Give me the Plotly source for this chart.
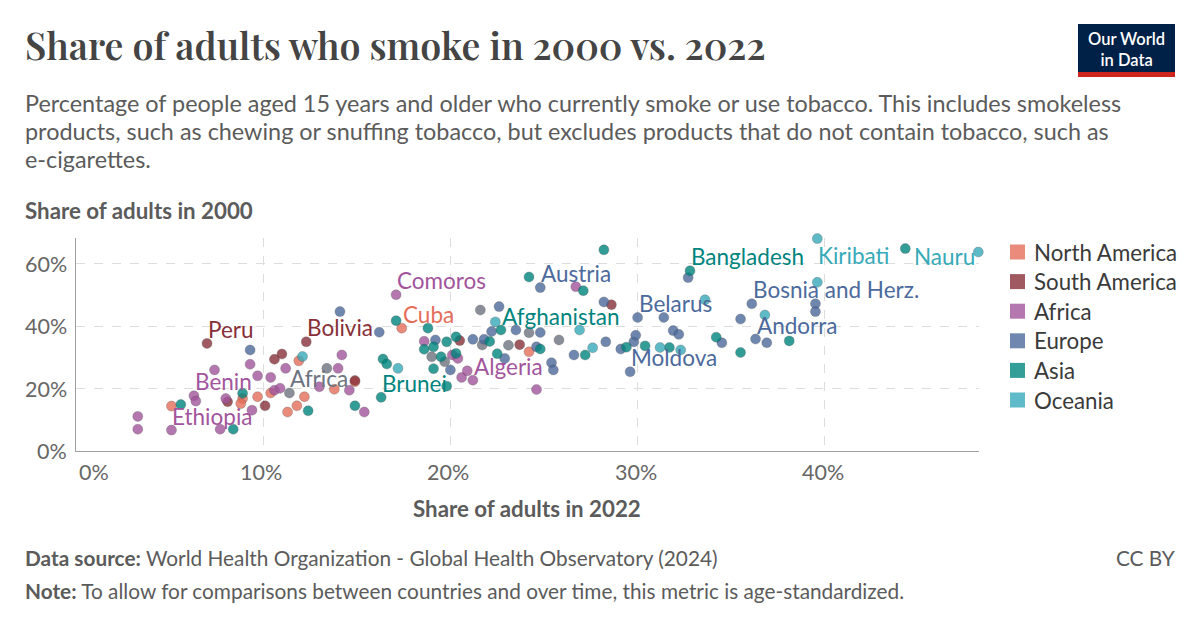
import plotly.graph_objects as go

# ---------------- data (share of adults who smoke, %) ----------------
# x = 2022, y = 2000
na_x = [17.4, 5.1, 8.9, 8.8, 9.7, 10.4, 11.3, 11.8, 12.2, 11.9, 13.8, 14.9, 24.2]
na_y = [39.4, 14.4, 16.8, 15.2, 17.4, 18.6, 12.5, 14.5, 17.4, 28.9, 19.8, 22.2, 31.8]

sa_x = [7.0, 12.3, 8.1, 10.1, 10.6, 11.0, 14.9, 20.5, 23.7, 28.6]
sa_y = [34.5, 35.0, 15.8, 14.5, 29.4, 31.1, 22.6, 35.4, 34.1, 46.9]

af_x = [17.1, 21.2, 6.3, 5.1, 3.3, 3.3, 6.4, 7.4, 8.0, 7.7, 9.4, 9.3, 9.7, 10.4, 10.6,
        10.9, 11.2, 13.0, 14.2, 14.0, 14.6, 15.4, 18.6, 20.1, 20.4, 20.6, 20.9, 24.6, 26.7]
af_y = [50.1, 22.7, 17.7, 6.7, 11.1, 7.0, 16.0, 26.0, 16.8, 7.0, 13.1, 27.8, 24.1, 23.6, 19.5,
        20.1, 26.5, 20.6, 30.8, 26.5, 19.5, 12.5, 35.2, 30.8, 29.7, 23.6, 25.7, 19.7, 52.7]

eu_x = [24.8, 30.0, 29.6, 36.1, 36.3, 9.3, 14.1, 16.2, 19.2, 20.0, 21.2, 21.8, 22.2, 22.6, 23.5,
        22.9, 24.6, 24.8, 25.4, 25.5, 26.6, 28.2, 28.3, 29.1, 29.8, 29.9, 31.4, 31.9, 32.2, 32.7,
        34.5, 35.5, 36.9, 39.5, 39.5]
eu_y = [52.4, 42.8, 25.4, 47.2, 35.9, 32.4, 44.7, 38.1, 35.6, 26.0, 35.8, 35.8, 38.3, 46.3, 38.8,
        29.7, 33.4, 38.0, 28.3, 26.0, 30.8, 47.8, 35.0, 32.7, 35.0, 37.1, 42.8, 38.6, 37.4, 55.6,
        34.7, 42.3, 34.7, 47.2, 44.7]

as_x = [22.7, 32.8, 16.3, 5.6, 8.9, 8.4, 12.4, 14.9, 16.4, 16.6, 17.1, 18.8, 19.8, 20.3, 18.6,
        19.1, 19.5, 20.3, 19.1, 19.8, 22.1, 22.5, 24.2, 24.8, 27.1, 27.2, 28.2, 29.4, 30.4, 31.7,
        34.2, 35.5, 38.1, 44.3]
as_y = [38.8, 57.8, 17.2, 14.9, 18.5, 7.0, 12.9, 14.5, 29.5, 27.9, 41.8, 39.4, 35.0, 36.6, 32.6,
        33.4, 30.2, 31.3, 26.4, 20.8, 35.1, 31.2, 55.8, 32.7, 51.4, 30.8, 64.5, 33.3, 33.7, 33.2,
        36.5, 31.6, 35.3, 64.9]

oc_x = [39.6, 48.2, 12.1, 17.2, 22.4, 26.9, 27.6, 31.2, 32.3, 33.6, 36.8, 39.6]
oc_y = [68.1, 63.8, 30.3, 26.5, 41.4, 38.8, 33.1, 33.2, 32.4, 48.5, 43.6, 54.1]

ot_x = [11.4, 13.4, 19.0, 19.7, 21.6, 21.7, 23.1, 24.2, 25.8]
ot_y = [18.6, 26.5, 30.2, 28.6, 45.2, 34.0, 33.9, 37.9, 35.6]

continents = ["North America", "South America", "Africa", "Europe", "Asia", "Oceania"]
colors = ["#E56E5A", "#883039", "#A2559C", "#4C6A9C", "#00847E", "#38AABA"]
other_color = "#6D7380"

# labelled points: text, group, index into that group's arrays
label_text = ["Cuba", "Peru", "Bolivia", "Comoros", "Algeria", "Benin", "Ethiopia",
              "Austria", "Belarus", "Moldova", "Bosnia and Herz.", "Andorra",
              "Afghanistan", "Bangladesh", "Brunei", "Kiribati", "Nauru", "Africa"]
label_group = ["North America", "South America", "South America", "Africa", "Africa", "Africa", "Africa",
               "Europe", "Europe", "Europe", "Europe", "Europe",
               "Asia", "Asia", "Asia", "Oceania", "Oceania", "Other"]
label_index = [0, 0, 1, 0, 1, 2, 3, 0, 1, 2, 3, 4, 0, 1, 2, 0, 1, 0]

x_ticks = [0, 10, 20, 30, 40]
y_ticks = [0, 20, 40, 60]

# ---------------- figure ----------------
W, H = 1200, 627
L, R, T, B = 76, 221, 238, 176
PW, PH = W - L - R, H - T - B
FONT = "Lato, 'Noto Sans', sans-serif"


def px(x):
    return (x - L) / PW


def py(y):
    return (H - B - y) / PH


series = {
    "North America": (na_x, na_y),
    "South America": (sa_x, sa_y),
    "Africa": (af_x, af_y),
    "Europe": (eu_x, eu_y),
    "Asia": (as_x, as_y),
    "Oceania": (oc_x, oc_y),
    "Other": (ot_x, ot_y),
}
color_of = dict(zip(continents, colors))
color_of["Other"] = other_color

fig = go.Figure()
for name in ["Other"] + continents:
    xs, ys = series[name]
    fig.add_trace(go.Scatter(
        x=xs, y=ys, mode="markers", name=name, showlegend=False,
        cliponaxis=False,
        marker=dict(size=10, color=color_of[name], opacity=0.8,
                    line=dict(width=0.6, color="rgba(60,60,60,0.55)")),
        hoverinfo="skip",
    ))

ann = []

# point labels
label_style = {
    "Kiribati": ("left", "middle", -1, -17),
    "Nauru": ("right", "middle", -1, -4),
}
for txt, grp, idx in zip(label_text, label_group, label_index):
    xs, ys = series[grp]
    xa, ya, xs_, ys_ = label_style.get(txt, ("left", "middle", -1, 14))
    col = color_of[grp]
    ann.append(dict(x=xs[idx], y=ys[idx], xref="x", yref="y", text=txt, showarrow=False,
                    xanchor=xa, yanchor=ya, xshift=xs_, yshift=ys_,
                    font=dict(family=FONT, size=22.5, color=col)))

# x tick labels
for i, v in enumerate(x_ticks):
    ann.append(dict(x=v, y=0, xref="x", yref="paper", text=f"{v}%", showarrow=False,
                    xanchor="left" if i == 0 else "center", yanchor="middle", yshift=-21,
                    xshift=1 if i == 0 else -2,
                    font=dict(family=FONT, size=21.5, color="#666666")))
# y tick labels
for v in y_ticks:
    ann.append(dict(x=0, y=v, xref="paper", yref="y", text=f"{v}%", showarrow=False,
                    xanchor="right", yanchor="middle", xshift=-7,
                    font=dict(family=FONT, size=21.5, color="#666666")))

# titles and texts
ann.append(dict(x=px(23), y=py(44), xref="paper", yref="paper", xanchor="left", yanchor="middle",
                text="Share of adults who smoke in 2000 vs. 2022", showarrow=False,
                font=dict(family="'Playfair Display', 'Liberation Serif', serif", size=37.5,
                          color="#444444", weight=600)))
subtitle = [
    "Percentage of people aged 15 years and older who currently smoke or use tobacco. This includes smokeless",
    "products, such as chewing or snuffing tobacco, but excludes products that do not contain tobacco, such as",
    "e-cigarettes.",
]
for i, line in enumerate(subtitle):
    ann.append(dict(x=px(23), y=py(103 + 28 * i), xref="paper", yref="paper", xanchor="left",
                    yanchor="middle", text=line, showarrow=False,
                    font=dict(family=FONT, size=23.4, color="#5b5b5b")))
ann.append(dict(x=px(23), y=py(210), xref="paper", yref="paper", xanchor="left", yanchor="middle",
                text="<b>Share of adults in 2000</b>", showarrow=False,
                font=dict(family=FONT, size=22.3, color="#5b5b5b")))
ann.append(dict(x=px(527), y=py(508), xref="paper", yref="paper", xanchor="center", yanchor="middle",
                text="<b>Share of adults in 2022</b>", showarrow=False,
                font=dict(family=FONT, size=22.3, color="#5b5b5b")))
ann.append(dict(x=px(23), y=py(557), xref="paper", yref="paper", xanchor="left", yanchor="middle",
                text="<b>Data source:</b> World Health Organization - Global Health Observatory (2024)",
                showarrow=False, font=dict(family=FONT, size=20.8, color="#5b5b5b")))
ann.append(dict(x=px(1177), y=py(557), xref="paper", yref="paper", xanchor="right", yanchor="middle",
                text="CC BY", showarrow=False, font=dict(family=FONT, size=20.8, color="#5b5b5b")))
ann.append(dict(x=px(23), y=py(590), xref="paper", yref="paper", xanchor="left", yanchor="middle",
                text="<b>Note:</b> To allow for comparisons between countries and over time, this metric is age-standardized.",
                showarrow=False, font=dict(family=FONT, size=20.8, color="#5b5b5b")))

# logo
shapes = []
shapes.append(dict(type="rect", xref="paper", yref="paper", x0=px(1078), x1=px(1175),
                   y0=py(72), y1=py(24), fillcolor="#002147", line=dict(width=0), layer="above"))
shapes.append(dict(type="rect", xref="paper", yref="paper", x0=px(1078), x1=px(1175),
                   y0=py(77), y1=py(72), fillcolor="#CE261E", line=dict(width=0), layer="above"))
ann.append(dict(x=px(1126.5), y=py(49), xref="paper", yref="paper", xanchor="center", yanchor="middle",
                text="Our World<br>in Data", showarrow=False, align="center",
                font=dict(family=FONT, size=16.5, color="white", weight=600)))

# legend
for i, (name, col) in enumerate(zip(continents, colors)):
    cy = 252 + 29.6 * i
    shapes.append(dict(type="rect", xref="paper", yref="paper", x0=px(1010), x1=px(1025),
                       y0=py(cy + 7.5), y1=py(cy - 7.5), fillcolor=col, opacity=0.8,
                       line=dict(width=0)))
    ann.append(dict(x=px(1032), y=py(cy), xref="paper", yref="paper", xanchor="left", yanchor="middle",
                    text=name, showarrow=False, font=dict(family=FONT, size=22.3, color="#3a3a3a")))

x_max = PW / 18.72
y_max = 68.3

fig.update_layout(
    width=W, height=H,
    margin=dict(l=L, r=R, t=T, b=B, pad=0),
    paper_bgcolor="white", plot_bgcolor="white",
    showlegend=False,
    xaxis=dict(range=[0, x_max], tickvals=x_ticks, showticklabels=False, ticks="",
               showgrid=True, gridcolor="#dddddd", griddash="dash", gridwidth=1,
               zeroline=False, showline=True, linecolor="#a0a0a0", linewidth=1, fixedrange=True),
    yaxis=dict(range=[0, y_max], tickvals=y_ticks, showticklabels=False, ticks="",
               showgrid=True, gridcolor="#dddddd", griddash="dash", gridwidth=1,
               zeroline=False, showline=True, linecolor="#a0a0a0", linewidth=1, fixedrange=True),
    annotations=ann,
    shapes=shapes,
    font=dict(family=FONT),
)

fig.write_html("out.html", config={"displayModeBar": False})
